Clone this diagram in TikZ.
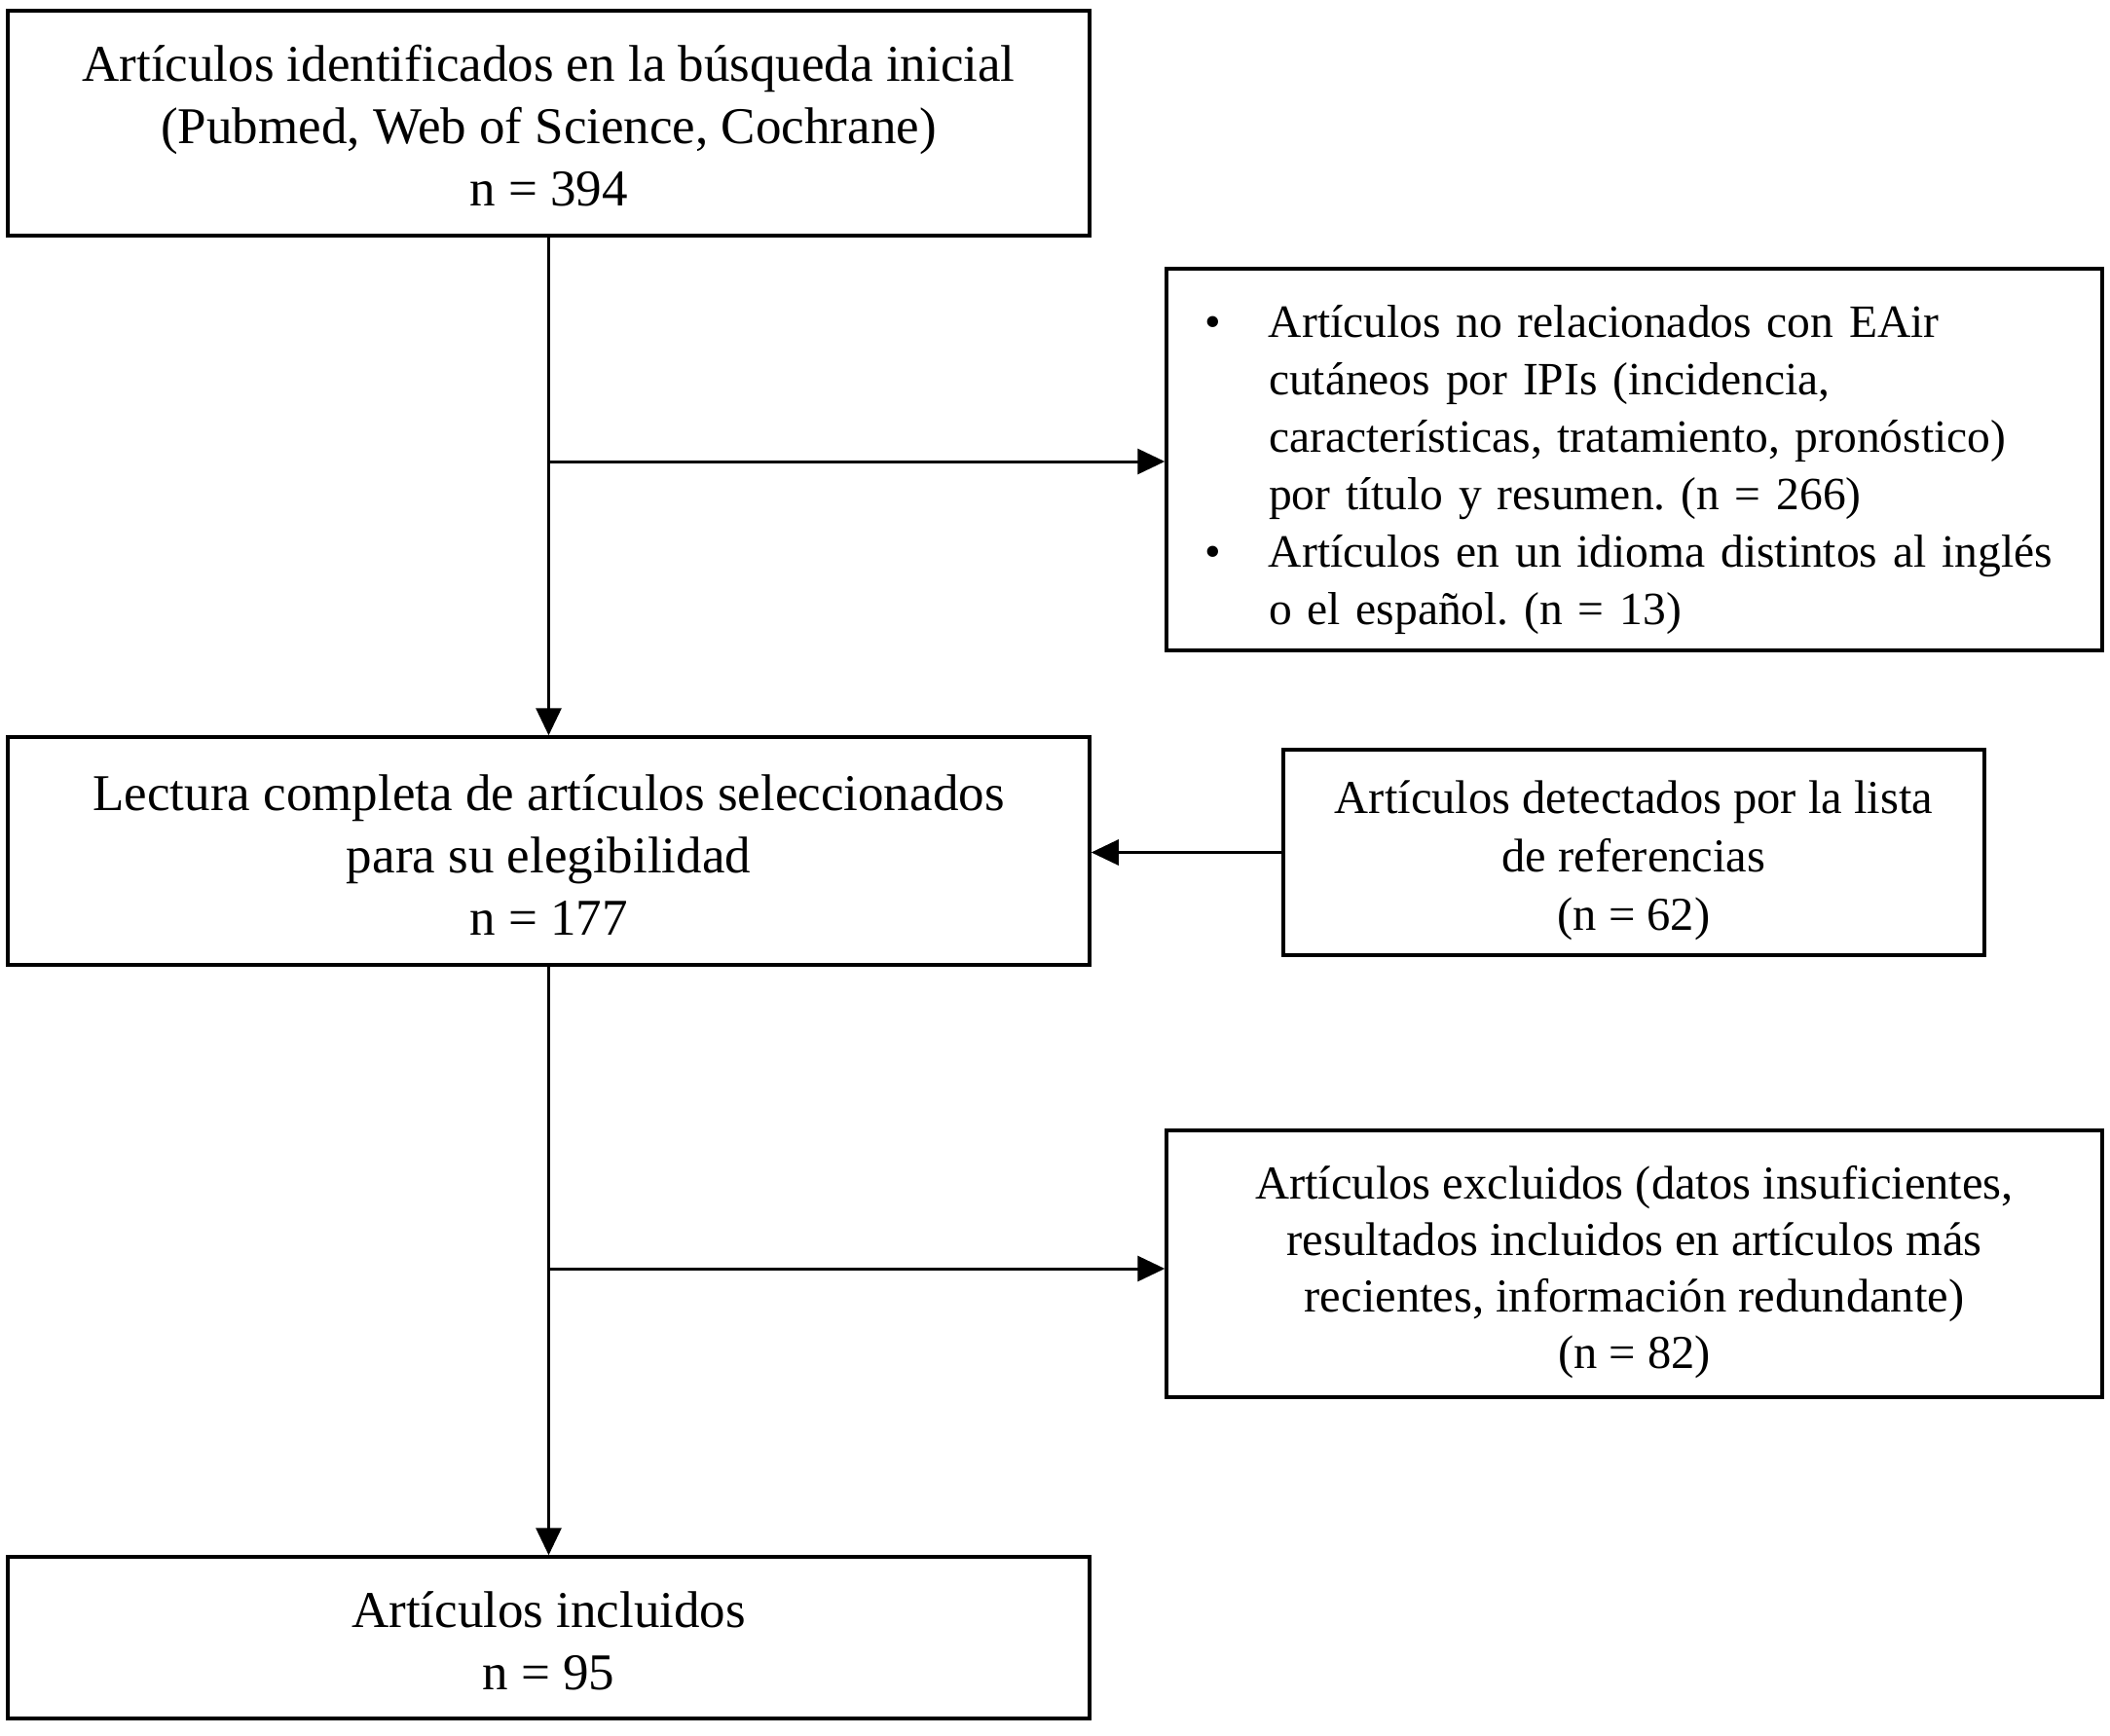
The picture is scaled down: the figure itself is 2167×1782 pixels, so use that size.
\documentclass[tikz,border=0pt]{standalone}
\usepackage{fontspec}
\setmainfont{Liberation Serif}
\usetikzlibrary{arrows.meta}
\frenchspacing
\newcommand{\dnshift}[3]{\raisebox{-#1}[\height][\depth]{\begin{tabular}{@{}#2@{}}#3\end{tabular}}}
\begin{document}
\begin{tikzpicture}[x=1pt,y=-1pt,
  box/.style={draw=black, line width=3.5pt, rectangle, inner sep=0pt, align=center},
  leftbox/.style={box, minimum width=1111pt, font=\fontsize{53}{64}\selectfont\frenchspacing},
  rightbox/.style={box, font=\fontsize{48.5}{58}\selectfont\frenchspacing},
  conn/.style={line width=3pt, draw=black},
  arr/.style={conn, -{Triangle[length=28pt,width=26pt]}}
]
\useasboundingbox (0,0) rectangle (2167,1782);
\fill[white] (0,0) rectangle (2167,1782);

\node[leftbox, minimum height=231pt] (b1) at (563.5,126.5)
  {\dnshift{8pt}{c}{Artículos identificados en la búsqueda inicial\\(Pubmed, Web of Science, Cochrane)\\n = 394}};

\node[rightbox, minimum width=961pt, minimum height=392pt, inner xsep=39pt,
      text width=883pt, align=left, font=\fontsize{47.5}{59}\selectfont\frenchspacing] (b2) at (1678.5,472)
  {\dnshift{10pt}{p{66pt}@{}l}{%
   • & Artículos no relacionados con EAir\\
     & cutáneos por IPIs (incidencia,\\
     & características, tratamiento, pronóstico)\\
     & por título y resumen. (n = 266)\\
   • & Artículos en un idioma distintos al inglés\\
     & o el español. (n = 13)}};

\node[leftbox, minimum height=234pt] (b3) at (563.5,874)
  {\dnshift{10pt}{c}{Lectura completa de artículos seleccionados\\para su elegibilidad\\n = 177}};

\node[rightbox, minimum width=720pt, minimum height=211pt, font=\fontsize{48.5}{60}\selectfont\frenchspacing] (b4) at (1678,875.5)
  {\dnshift{8pt}{c}{Artículos detectados por la lista\\de referencias\\(n = 62)}};

\node[rightbox, minimum width=961pt, minimum height=274pt] (b5) at (1678.5,1298)
  {\dnshift{9pt}{c}{Artículos excluidos (datos insuficientes,\\resultados incluidos en artículos más\\recientes, información redundante)\\(n = 82)}};

\node[leftbox, minimum height=166pt] (b6) at (563.5,1682)
  {\dnshift{9pt}{c}{Artículos incluidos\\n = 95}};

\coordinate (j1) at (563.5,474);
\coordinate (j3) at (563.5,1303);

\draw[arr] (b1.south) -- (b3.north);
\draw[arr] (j1) -- (j1 -| b2.west);
\draw[arr] (b4.west) -- (b4.west -| b3.east);
\draw[arr] (b3.south) -- (b6.north);
\draw[arr] (j3) -- (j3 -| b5.west);
\end{tikzpicture}
\end{document}
